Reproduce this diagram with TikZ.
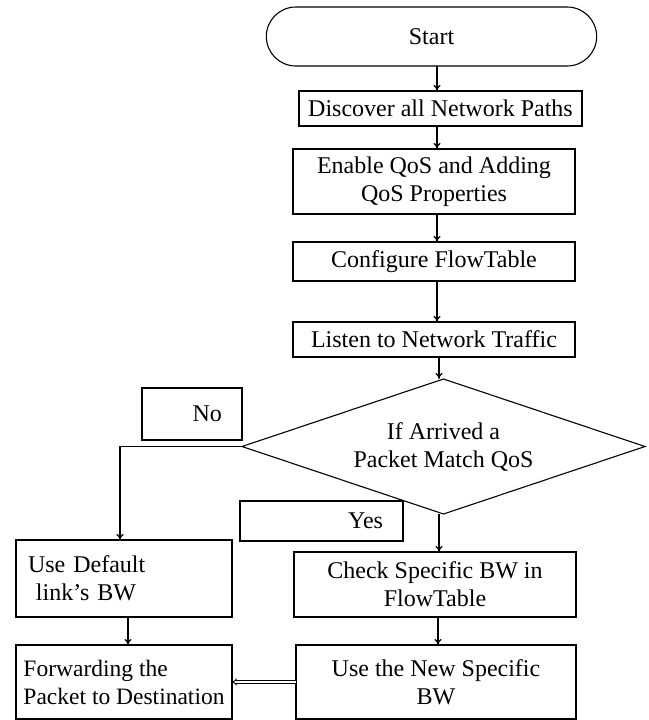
\documentclass[tikz,border=0pt]{standalone}
\usepackage{fontspec}
\setmainfont{Liberation Serif}
\usetikzlibrary{shapes.geometric}
\usetikzlibrary{shapes.misc}
\usetikzlibrary{positioning, arrows.meta}

\begin{document}
\begin{tikzpicture}[x=1pt, y=-1pt, line width=1.1pt,
    every node/.style={font=\fontsize{24}{28}\selectfont, outer sep=0pt}]
        % Define styles for shapes
        \tikzstyle{process} = [draw, align=center, inner sep=2pt]
        \tikzstyle{terminal} = [draw, rounded rectangle, minimum width=337pt, minimum height=59pt]
        \tikzstyle{decision} = [draw, diamond, aspect=3, align=center, inner sep=0pt, minimum width=403pt, minimum height=135pt]
        \tikzstyle{tag} = [draw, align=right, inner xsep=20pt, inner ysep=0pt]
        \tikzstyle{arr} = [-{To[length=6pt, width=7pt]}]
        \clip (0,0) rectangle (648,720);
        % Draw shapes
        \node[terminal] (start) at (431.5, 36.5) {Start};
        \node[process, minimum width=283pt, minimum height=35pt] (discover) at (440.5, 108.5) {Discover all Network Paths};
        \node[process, minimum width=282pt, minimum height=65pt] (enable) at (434, 181.5) {Enable QoS and Adding\\QoS Properties};
        \node[process, minimum width=282pt, minimum height=39pt] (config) at (434, 261.5) {Configure FlowTable};
        \node[process, minimum width=282pt, minimum height=35pt] (listen) at (434, 339.5) {Listen to Network Traffic};
        \node[decision] (match) at (443.5, 446.5) {If Arrived a\\Packet Match QoS};
        % the two answer boxes
        \node[tag, text width=60pt, minimum height=52pt] (no) at (192, 414) {No};
        \node[tag, text width=123pt, minimum height=40pt] (yes) at (321.5, 521) {Yes};
        % left column
        \node[process, align=left, text width=192pt, minimum height=77pt, inner xsep=12pt] (default) at (124, 578.5) {Use Default\\\ link's BW};
        \node[process, align=left, minimum width=216pt, minimum height=74pt, inner xsep=2pt, font=\fontsize{23.5}{28}\selectfont] (forward) at (124, 682) {Forwarding the\\Packet to Destination};
        % right column
        \node[process, minimum width=282pt, minimum height=65pt] (check) at (435, 584.5) {Check Specific BW in\\FlowTable};
        \node[process, minimum width=280pt, minimum height=74pt] (usenew) at (436, 682) {Use the New Specific\\BW};

        % Draw arrows
        \draw[arr] (start.south -| 437,0) -- (437, 0 |- discover.north);
        \draw[arr] (discover.south -| 437,0) -- (437, 0 |- enable.north);
        \draw[arr] (enable.south -| 437,0) -- (437, 0 |- config.north);
        \draw[arr] (config.south -| 437,0) -- (437, 0 |- listen.north);
        \draw[arr] (listen.south -| 439,0) -- (439, 379);
        % No branch
        \draw[arr] (match.west) -| (120, 0 |- default.north);
        % Yes branch
        \draw[arr] (match.south -| 439,0) -- (439, 0 |- check.north);
        \draw[arr] (check.south -| 438,0) -- (438, 0 |- usenew.north);
        \draw[arr] (default.south -| 128,0) -- (128, 0 |- forward.north);
        \draw[double, double distance=1.6pt, line width=0.8pt, -{Implies}] (usenew.west) -- (forward.east);
    \end{tikzpicture}
\end{document}
